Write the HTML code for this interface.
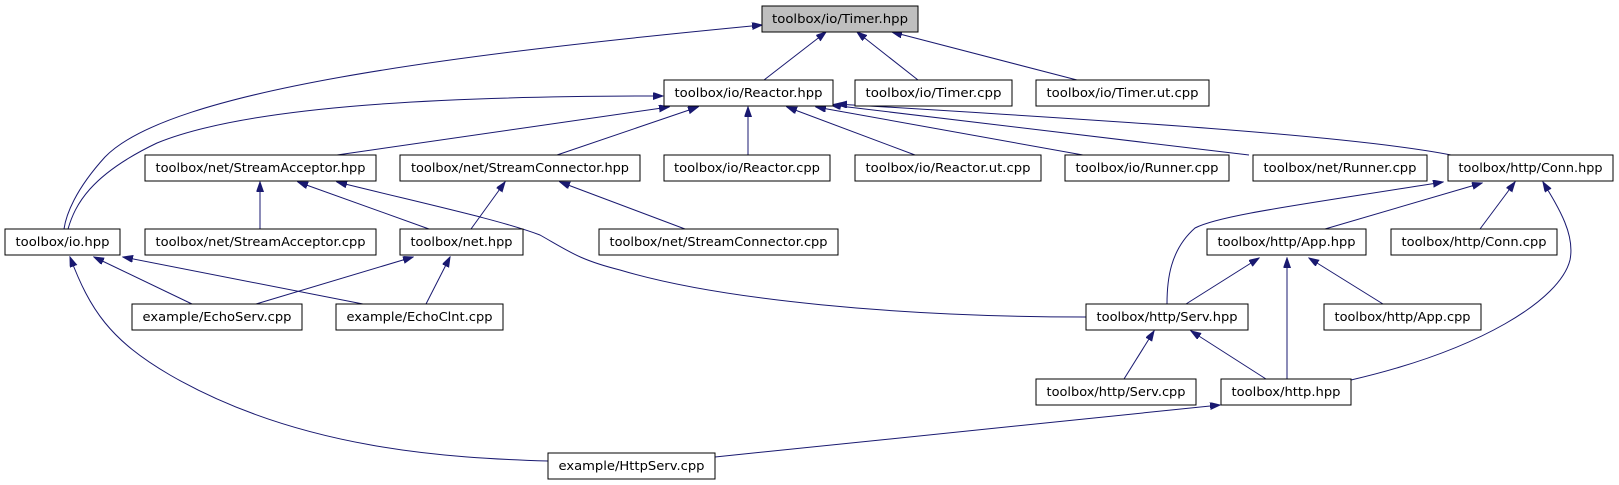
<!DOCTYPE html>
<html><head><meta charset="utf-8"><style>
html,body{margin:0;padding:0;background:#fff;}
svg{display:block;}
text{font-family:"DejaVu Sans","Liberation Sans",sans-serif;font-size:12.5px;fill:#000;}
</style></head><body>
<svg width="1619" height="485" viewBox="0 0 1619 485" xmlns="http://www.w3.org/2000/svg">
<defs>
<marker id="a" markerWidth="11" markerHeight="8" refX="10" refY="3.5" orient="auto-start-reverse" markerUnits="userSpaceOnUse">
<path d="M0,0 L10,3.5 L0,7 z" fill="#191970" stroke="#191970"/>
</marker>
</defs>
<g fill="none" stroke="#191970" stroke-width="1" marker-start="url(#a)">
<path d="M762,25 C450,55 170,90 105,157 C75,190 66,215 64,229"/>
<path d="M826,32 L764,80"/>
<path d="M857,32 L918,80"/>
<path d="M892,32 L1077,80"/>
<path d="M663,96 C450,96 250,105 157,143 C90,175 75,205 68,229"/>
<path d="M669,107 L337,155"/>
<path d="M698,107 L557,155"/>
<path d="M748,107 L748,155"/>
<path d="M787,107 L915,155"/>
<path d="M816,107 L1083,155"/>
<path d="M831,105 L1249,155"/>
<path d="M837,104 C1100,120 1350,135 1451,155"/>
<path d="M260,182 L260,229"/>
<path d="M298,182 L429,229"/>
<path d="M337,182 C430,205 500,220 540,235 C570,252 580,260 620,270 C720,300 900,317 1086,317"/>
<path d="M505,182 L471,229"/>
<path d="M560,182 L685,229"/>
<path d="M1443,182 C1300,205 1220,215 1195,228 C1170,250 1167,280 1167,304"/>
<path d="M1482,183 L1325,229"/>
<path d="M1515,182 L1480,229"/>
<path d="M1543,182 C1560,210 1575,235 1570,260 C1560,300 1480,350 1351,380"/>
<path d="M1259,258 L1186,304"/>
<path d="M1287,258 L1287,379"/>
<path d="M1309,258 L1383,304"/>
<path d="M1154,331 L1124,379"/>
<path d="M1191,331 L1266,379"/>
<path d="M1220,405 L715,457"/>
<path d="M94,257 L192,304"/>
<path d="M123,257 L363,304"/>
<path d="M70,257 C90,310 110,340 170,375 C300,450 450,458 548,461"/>
<path d="M413,257 L256,304"/>
<path d="M450,257 L426,304"/>
</g>
<g stroke="#000" stroke-width="1" fill="#fff">
<rect x="762" y="6" width="156" height="26" fill="#bfbfbf"/>
<rect x="664" y="80" width="169" height="26"/>
<rect x="855" y="80" width="157" height="26"/>
<rect x="1036" y="80" width="173" height="26"/>
<rect x="145" y="155" width="231" height="26"/>
<rect x="400" y="155" width="240" height="26"/>
<rect x="664" y="155" width="166" height="26"/>
<rect x="855" y="155" width="186" height="26"/>
<rect x="1065" y="155" width="164" height="26"/>
<rect x="1253" y="155" width="174" height="26"/>
<rect x="1448" y="155" width="165" height="26"/>
<rect x="5" y="229" width="115" height="26"/>
<rect x="145" y="229" width="231" height="26"/>
<rect x="400" y="229" width="123" height="26"/>
<rect x="599" y="229" width="239" height="26"/>
<rect x="1207" y="229" width="159" height="26"/>
<rect x="1391" y="229" width="166" height="26"/>
<rect x="132" y="304" width="170" height="26"/>
<rect x="336" y="304" width="167" height="26"/>
<rect x="1086" y="304" width="162" height="26"/>
<rect x="1324" y="304" width="157" height="26"/>
<rect x="1036" y="379" width="160" height="26"/>
<rect x="1221" y="379" width="130" height="26"/>
<rect x="548" y="453" width="167" height="26"/>
</g>
<g text-anchor="middle" lengthAdjust="spacingAndGlyphs">
<text x="840" y="23" textLength="136" lengthAdjust="spacingAndGlyphs">toolbox/io/Timer.hpp</text>
<text x="748.5" y="97" textLength="148" lengthAdjust="spacingAndGlyphs">toolbox/io/Reactor.hpp</text>
<text x="933.5" y="97" textLength="136" lengthAdjust="spacingAndGlyphs">toolbox/io/Timer.cpp</text>
<text x="1122.5" y="97" textLength="152" lengthAdjust="spacingAndGlyphs">toolbox/io/Timer.ut.cpp</text>
<text x="260.5" y="172" textLength="210" lengthAdjust="spacingAndGlyphs">toolbox/net/StreamAcceptor.hpp</text>
<text x="520" y="172" textLength="218" lengthAdjust="spacingAndGlyphs">toolbox/net/StreamConnector.hpp</text>
<text x="747" y="172" textLength="146" lengthAdjust="spacingAndGlyphs">toolbox/io/Reactor.cpp</text>
<text x="948" y="172" textLength="165" lengthAdjust="spacingAndGlyphs">toolbox/io/Reactor.ut.cpp</text>
<text x="1147" y="172" textLength="143" lengthAdjust="spacingAndGlyphs">toolbox/io/Runner.cpp</text>
<text x="1340" y="172" textLength="153" lengthAdjust="spacingAndGlyphs">toolbox/net/Runner.cpp</text>
<text x="1530.5" y="172" textLength="144" lengthAdjust="spacingAndGlyphs">toolbox/http/Conn.hpp</text>
<text x="62.5" y="246" textLength="94" lengthAdjust="spacingAndGlyphs">toolbox/io.hpp</text>
<text x="260.5" y="246" textLength="210" lengthAdjust="spacingAndGlyphs">toolbox/net/StreamAcceptor.cpp</text>
<text x="461.5" y="246" textLength="102" lengthAdjust="spacingAndGlyphs">toolbox/net.hpp</text>
<text x="718.5" y="246" textLength="218" lengthAdjust="spacingAndGlyphs">toolbox/net/StreamConnector.cpp</text>
<text x="1286.5" y="246" textLength="138" lengthAdjust="spacingAndGlyphs">toolbox/http/App.hpp</text>
<text x="1474" y="246" textLength="145" lengthAdjust="spacingAndGlyphs">toolbox/http/Conn.cpp</text>
<text x="217" y="321" textLength="149" lengthAdjust="spacingAndGlyphs">example/EchoServ.cpp</text>
<text x="419.5" y="321" textLength="146" lengthAdjust="spacingAndGlyphs">example/EchoClnt.cpp</text>
<text x="1167" y="321" textLength="141" lengthAdjust="spacingAndGlyphs">toolbox/http/Serv.hpp</text>
<text x="1402.5" y="321" textLength="136" lengthAdjust="spacingAndGlyphs">toolbox/http/App.cpp</text>
<text x="1116" y="396" textLength="139" lengthAdjust="spacingAndGlyphs">toolbox/http/Serv.cpp</text>
<text x="1286" y="396" textLength="109" lengthAdjust="spacingAndGlyphs">toolbox/http.hpp</text>
<text x="631.5" y="470" textLength="146" lengthAdjust="spacingAndGlyphs">example/HttpServ.cpp</text>
</g>
</svg>
</body></html>
